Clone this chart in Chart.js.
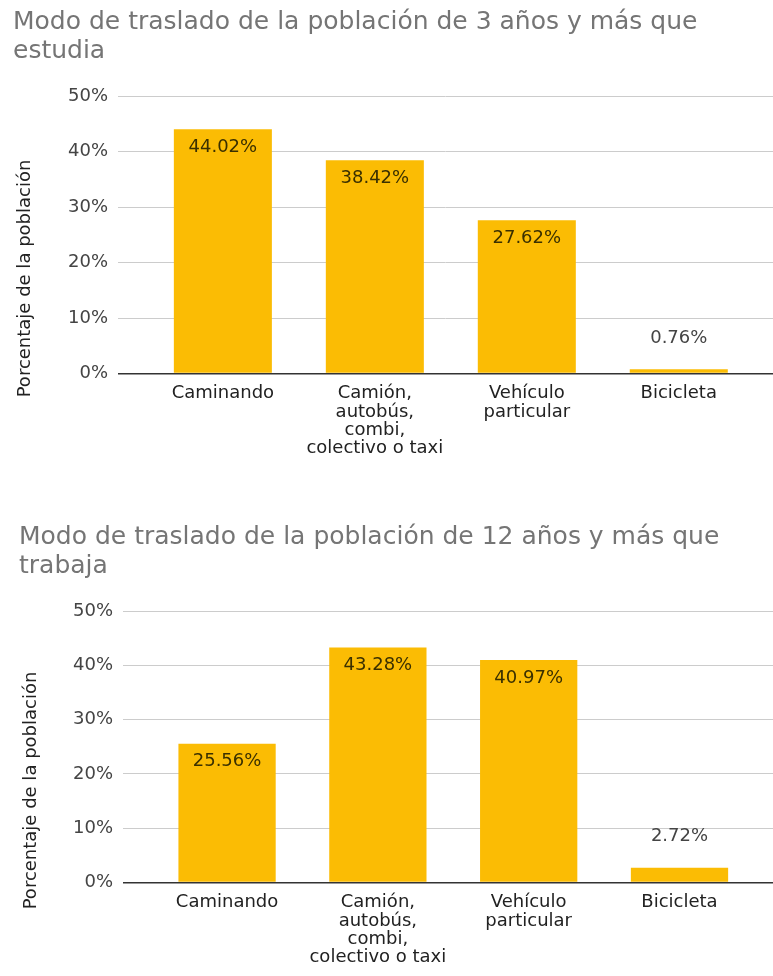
<!DOCTYPE html>
<html>
<head>
<meta charset="utf-8">
<script src="https://cdn.jsdelivr.net/npm/chart.js@4.4.0/dist/chart.umd.min.js"></script>
<style>
  body { margin: 0; background: #fff; }
  .box { position: absolute; left: 0; width: 773px; }
</style>
</head>
<body>
<div class="box" style="top:0;height:480px"><canvas id="estudiaChart"></canvas></div>
<div class="box" style="top:515px;height:461px"><canvas id="trabajaChart"></canvas></div>
<script>
// data
const categories = [
    ['Caminando'],
    ['Camión,', 'autobús,', 'combi,', 'colectivo o taxi'],
    ['Vehículo', 'particular'],
    ['Bicicleta']
];
const estudiaValues = [44.02, 38.42, 27.62, 0.76];
const trabajaValues = [25.56, 43.28, 40.97, 2.72];
const yTicks = [0, 10, 20, 30, 40, 50];
const estudiaTitle = ['Modo de traslado de la población de 3 años y más que', 'estudia'];
const trabajaTitle = ['Modo de traslado de la población de 12 años y más que', 'trabaja'];
const yAxisTitle = 'Porcentaje de la población';

const FONT = '"DejaVu Sans", sans-serif';
Chart.defaults.font.family = FONT;

// value labels on the bars (inside when the bar is tall enough)
const barLabels = {
    id: 'barLabels',
    afterDatasetsDraw(chart) {
        const ctx = chart.ctx;
        const meta = chart.getDatasetMeta(0);
        const data = chart.data.datasets[0].data;
        ctx.save();
        ctx.font = '18px ' + FONT;
        ctx.textAlign = 'center';
        ctx.textBaseline = 'middle';
        meta.data.forEach((bar, i) => {
            const text = data[i].y.toFixed(2) + '%';
            if (bar.base - bar.y > 40) {
                ctx.fillStyle = '#3a3000';
                ctx.fillText(text, bar.x, bar.y + 18);
            } else {
                ctx.fillStyle = '#444';
                ctx.fillText(text, bar.x, bar.y - 31);
            }
        });
        ctx.restore();
    }
};

// y axis title, centred on plot + category labels like the original
const sideTitle = {
    id: 'sideTitle',
    afterDraw(chart, args, opts) {
        const ctx = chart.ctx;
        const cy = (chart.chartArea.top + chart.scales.x.bottom) / 2;
        ctx.save();
        ctx.translate(opts.x, cy);
        ctx.rotate(-Math.PI / 2);
        ctx.font = '18px ' + FONT;
        ctx.fillStyle = '#222';
        ctx.textAlign = 'center';
        ctx.textBaseline = 'middle';
        ctx.fillText(yAxisTitle, 0, 0);
        ctx.restore();
    }
};

function makeChart(id, title, values, leftPad, axisWidth, bottomPad) {
    return new Chart(document.getElementById(id).getContext('2d'), {
        type: 'bar',
        data: {
            datasets: [
                {
                    data: values.map((v, i) => ({ x: i, y: v })),
                    backgroundColor: '#fbbc04',
                    barPercentage: 0.645,
                    categoryPercentage: 1
                }
            ]
        },
        plugins: [barLabels, sideTitle],
        options: {
            responsive: true,
            maintainAspectRatio: false,
            devicePixelRatio: 1,
            animation: false,
            layout: {
                padding: { left: leftPad, right: 0, top: 0, bottom: bottomPad }
            },
            plugins: {
                legend: { display: false },
                tooltip: { enabled: false },
                title: {
                    display: true,
                    text: title,
                    align: 'start',
                    color: '#757575',
                    font: { size: 25, weight: 'normal', lineHeight: 1.16 },
                    padding: { top: 8, bottom: 30 }
                },
                sideTitle: { x: leftPad + 12 }
            },
            scales: {
                x: {
                    type: 'linear',
                    offset: false,
                    min: -0.69,
                    max: 3.62,
                    grid: { display: false },
                    border: { display: false },
                    ticks: {
                        stepSize: 1,
                        includeBounds: false,
                        autoSkip: false,
                        maxRotation: 0,
                        padding: 3,
                        color: '#222',
                        font: { size: 18, lineHeight: 1.02 },
                        callback: v => categories[v] || ''
                    }
                },
                y: {
                    min: 0,
                    max: 50,
                    afterBuildTicks: s => { s.ticks = yTicks.map(v => ({ value: v })); },
                    afterFit: s => { s.width = axisWidth; },
                    border: { display: false },
                    grid: {
                        drawTicks: false,
                        color: c => c.tick.value === 0 ? '#333' : '#cccccc',
                        lineWidth: c => c.tick.value === 0 ? 1.5 : 1
                    },
                    ticks: {
                        padding: 10,
                        color: '#444',
                        font: { size: 18 },
                        callback: v => v + '%'
                    }
                }
            }
        }
    });
}

const estudiaChart = makeChart('estudiaChart', estudiaTitle, estudiaValues, 13, 105, 19);
const trabajaChart = makeChart('trabajaChart', trabajaTitle, trabajaValues, 19, 104, 6);
</script>
</body>
</html>
